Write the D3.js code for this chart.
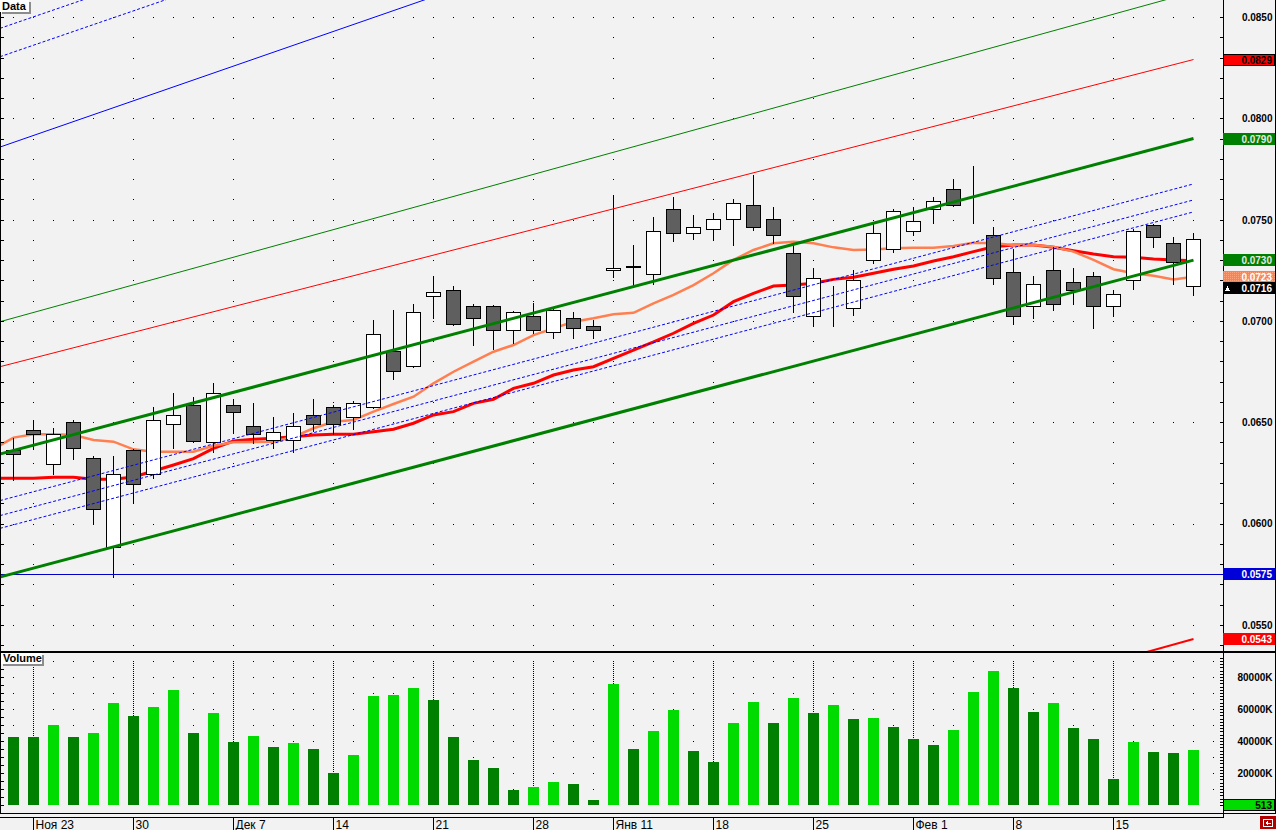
<!DOCTYPE html>
<html><head><meta charset="utf-8">
<script src="https://cdn.jsdelivr.net/npm/d3@7"></script>
<style>
body{margin:0;background:#f2f2f2;overflow:hidden}
svg{display:block}
text{font-family:"Liberation Sans",Arial,sans-serif}
</style>
</head><body>
<svg id="c" width="1276" height="830"></svg>
<script>
// ---------------- DATA ----------------
const opens  = [0.06363,0.06462,0.06292,0.06500,0.06322,0.05883,0.06363,0.06243,0.06490,0.06585,
                0.06401,0.06583,0.06480,0.06411,0.06411,0.06536,0.06574,0.06524,0.06574,0.06850,
                0.06779,0.07121,0.07151,0.07072,0.07072,0.06954,0.07023,0.06944,0.07013,0.06973,
                0.07250,0.07268,0.07230,0.07551,0.07432,0.07452,0.07501,0.07571,0.07501,0.07334,
                0.07023,0.07102,0.07062,0.07299,0.07353,0.07442,0.07551,0.07650,0.07551,0.07423,
                0.07240,0.07072,0.07250,0.07191,0.07220,0.07072,0.07200,0.07472,0.07383,0.07171];
const highs  = [0.06424,0.06511,0.06470,0.06511,0.06333,0.06333,0.06368,0.06574,0.06646,0.06626,
                0.06695,0.06615,0.06595,0.06524,0.06545,0.06615,0.06585,0.06605,0.07004,0.07054,
                0.07083,0.07222,0.07172,0.07083,0.07078,0.07049,0.07087,0.07059,0.07044,0.07003,
                0.07621,0.07375,0.07513,0.07612,0.07523,0.07533,0.07602,0.07722,0.07561,0.07383,
                0.07260,0.07171,0.07250,0.07482,0.07551,0.07561,0.07610,0.07700,0.07765,0.07462,
                0.07353,0.07220,0.07363,0.07260,0.07240,0.07151,0.07452,0.07478,0.07413,0.07432];
const lows   = [0.06215,0.06366,0.06244,0.06317,0.06001,0.05737,0.06100,0.06226,0.06374,0.06402,
                0.06354,0.06445,0.06396,0.06374,0.06354,0.06457,0.06440,0.06465,0.06569,0.06715,
                0.06774,0.07016,0.06978,0.06883,0.06863,0.06892,0.06939,0.06914,0.06914,0.06914,
                0.07215,0.07172,0.07184,0.07396,0.07406,0.07406,0.07376,0.07447,0.07383,0.07045,
                0.06976,0.06976,0.07028,0.07286,0.07339,0.07423,0.07485,0.07566,0.07485,0.07184,
                0.06986,0.07016,0.07055,0.07085,0.06966,0.07026,0.07156,0.07366,0.07184,0.07126];
const closes = [0.06342,0.06440,0.06442,0.06371,0.06070,0.06243,0.06193,0.06509,0.06536,0.06409,
                0.06643,0.06552,0.06440,0.06450,0.06480,0.06490,0.06490,0.06593,0.06934,0.06751,
                0.07042,0.07141,0.06983,0.07013,0.06954,0.07042,0.06954,0.07052,0.06963,0.06954,
                0.07260,0.07270,0.07442,0.07432,0.07462,0.07501,0.07580,0.07462,0.07423,0.07121,
                0.07210,0.07102,0.07200,0.07432,0.07541,0.07492,0.07590,0.07571,0.07551,0.07210,
                0.07023,0.07181,0.07082,0.07151,0.07072,0.07131,0.07442,0.07413,0.07289,0.07403];
// volumes in thousands (K)
const volumes = [42500,42500,50000,42500,45000,63960,55625,61250,71875,45000,
                 57500,39375,43125,36250,38750,35000,20000,31250,68125,68750,
                 73125,65625,42500,28125,23125,9375,11250,14375,13125,3125,
                 75625,35000,46250,59375,33750,26875,51250,64375,51250,66875,
                 57500,62500,53750,54375,48750,41250,37500,46875,70625,83750,
                 73125,58125,63750,48125,41250,16250,39375,33125,32500,34375];
// moving averages: first value belongs to the bar before the first visible one
const maFast = [0.06368,0.06424,0.06440,0.06440,0.06437,0.06412,0.06404,0.06366,0.06354,0.06354,0.06354,
                0.06384,0.06401,0.06402,0.06404,0.06428,0.06470,0.06502,0.06511,0.06552,0.06590,
                0.06626,0.06692,0.06749,0.06799,0.06848,0.06881,0.06930,0.06963,0.06996,0.07013,
                0.07033,0.07040,0.07087,0.07128,0.07177,0.07235,0.07301,0.07350,0.07383,0.07391,
                0.07383,0.07363,0.07350,0.07353,0.07358,0.07361,0.07361,0.07370,0.07386,0.07383,
                0.07375,0.07375,0.07366,0.07342,0.07301,0.07255,0.07235,0.07223,0.07205,0.07218];
const maSlow = [0.06223,0.06223,0.06223,0.06228,0.06228,0.06218,0.06218,0.06230,0.06259,0.06289,0.06320,
                0.06371,0.06407,0.06416,0.06421,0.06428,0.06437,0.06440,0.06440,0.06453,0.06465,
                0.06495,0.06536,0.06552,0.06593,0.06613,0.06667,0.06692,0.06733,0.06758,0.06774,
                0.06815,0.06856,0.06896,0.06939,0.06988,0.07029,0.07095,0.07136,0.07172,0.07177,
                0.07186,0.07205,0.07215,0.07235,0.07255,0.07271,0.07296,0.07317,0.07342,0.07366,
                0.07375,0.07375,0.07363,0.07346,0.07330,0.07317,0.07314,0.07306,0.07301,0.07297];
// trend objects: [barIndexStart, priceStart, barIndexEnd, priceEnd]
const chanUpper  = [-0.675,0.06343,59,0.07900];
const chanLower  = [-0.675,0.05736,59,0.07300];
const thinGreen  = [-0.675,0.06996,59,0.08623];
const thinRed    = [-0.675,0.06774,59,0.08290];
const redBottom  = [55.0,0.05320,59,0.05430];
const midDot1    = [-0.675,0.06113,59,0.07676];
const midDot2    = [-0.675,0.06039,59,0.07597];
const midDot3    = [-0.675,0.05976,59,0.07538];
const blueSolid  = [-0.675,0.07858,25,0.08737];
const blueDot1   = [-0.675,0.08444,10,0.08806];
const blueDot2   = [-0.675,0.08304,12,0.08734];
const hLevel     = 0.0575;
// axis labels
const priceTickLabels = ["0.0550","0.0600","0.0650","0.0700","0.0750","0.0800","0.0850"];
const volTickLabels   = ["20000K","40000K","60000K","80000K"];
const dateTickIdx    = [1,6,11,16,21,26,30,35,40,45,50,55];
const dateTickLabels = ["Ноя 23","30","Дек 7","14","21","28","Янв 11","18","25","Фев 1","8","15"];
const lastBid = 0.0716;
const lastVolLabel = "513";

// ---------------- CHART ----------------
const svg = d3.select("#c");
const AX = 1223;        // right axis x
const x  = d3.scaleLinear().domain([0,59]).range([13.5,1193.5]);
const y  = d3.scaleLinear().domain([0.055,0.085]).range([624.8,17]);
const yv = d3.scaleLinear().domain([0,80000]).range([805,677]);
const fx = i => Math.floor(x(i));

svg.append("rect").attr("width",1276).attr("height",830).attr("fill","#f2f2f2");

const defs = svg.append("defs");
defs.append("clipPath").attr("id","cp").append("rect").attr("x",1).attr("y",0).attr("width",AX-1).attr("height",651);
defs.append("clipPath").attr("id","cv").append("rect").attr("x",1).attr("y",654).attr("width",AX-1).attr("height",159);
const pat = defs.append("pattern").attr("id","orPat").attr("width",2).attr("height",2).attr("patternUnits","userSpaceOnUse");
pat.append("rect").attr("width",2).attr("height",2).attr("fill","#ff7f50");
pat.append("rect").attr("width",1).attr("height",1).attr("fill","#ffa27a");

// ---- price grid dots
const priceMajor = priceTickLabels.map(Number);
const priceMinor = d3.range(54,86).map(k=>k/1000);
const gGrid = svg.append("g").attr("shape-rendering","crispEdges");
priceMajor.forEach(v=>{
  d3.range(60).forEach(k=>{
    gGrid.append("rect").attr("x",fx(k)).attr("y",Math.round(y(v))).attr("width",1).attr("height",1).attr("fill","#000");
  });
});
dateTickIdx.forEach(idx=>{
  priceMinor.forEach(v=>{
    const yy=Math.round(y(v)); if(yy>0&&yy<650)
    gGrid.append("rect").attr("x",fx(idx)).attr("y",yy).attr("width",1).attr("height",1).attr("fill","#000");
  });
});
// ---- volume grid
d3.range(10000,90001,10000).forEach(v=>{
  d3.range(61).forEach(k=>{
    gGrid.append("rect").attr("x",fx(k)).attr("y",Math.round(yv(v))).attr("width",1).attr("height",1).attr("fill","#000");
  });
});
dateTickIdx.forEach(idx=>{
  gGrid.append("line").attr("x1",fx(idx)+0.5).attr("x2",fx(idx)+0.5)
    .attr("y1",Math.round(yv(90000))).attr("y2",805).attr("stroke","#000").attr("stroke-dasharray","1,1");
});

// ---- price pane content
const gP = svg.append("g").attr("clip-path","url(#cp)");
const line = d3.line().x(d=>x(d[0])).y(d=>y(d[1]));
const maLine = d3.line().x((d,k)=>x(k-1)).y(d=>y(d));
gP.append("path").attr("d",maLine(maSlow)).attr("fill","none").attr("stroke","#ff0000").attr("stroke-width",3);
gP.append("path").attr("d",maLine(maFast)).attr("fill","none").attr("stroke","#ff7f50").attr("stroke-width",2.5);

// candles
const gC = gP.append("g").attr("shape-rendering","crispEdges");
d3.range(60).forEach(i=>{
  const o=opens[i],c=closes[i],h=highs[i],l=lows[i];
  const cx=fx(i)+0.5;
  gC.append("line").attr("x1",cx).attr("x2",cx).attr("y1",Math.round(y(h))).attr("y2",Math.round(y(l))+1).attr("stroke","#000");
  const top=Math.round(y(Math.max(o,c))), bot=Math.round(y(Math.min(o,c)));
  gC.append("rect").attr("x",fx(i)-7+0.5).attr("y",top+0.5).attr("width",14).attr("height",Math.max(bot-top,0))
    .attr("fill", c>=o ? "#ffffff" : "#5f5f5f").attr("stroke","#000").attr("stroke-width",1);
});

// trend objects
const seg = a=>[[a[0],a[1]],[a[2],a[3]]];
gP.append("line").attr("x1",0).attr("x2",AX).attr("y1",Math.round(y(hLevel))+0.5).attr("y2",Math.round(y(hLevel))+0.5).attr("stroke","#0000c8").attr("stroke-width",1);
[[blueSolid,"#0000ff",null],[blueDot1,"#0000ff","3,2"],[blueDot2,"#0000ff","3,2"],
 [midDot1,"#0000ff","3,2"],[midDot2,"#0000ff","3,2"],[midDot3,"#0000ff","3,2"],
 [thinGreen,"#008000",null],[thinRed,"#ff0000",null]].forEach(([a,col,dash])=>{
  const p=gP.append("path").attr("d",line(seg(a))).attr("fill","none").attr("stroke",col).attr("stroke-width",1);
  if(dash) p.attr("stroke-dasharray",dash);
});
[chanUpper,chanLower].forEach(a=>{
  gP.append("path").attr("d",line(seg(a))).attr("fill","none").attr("stroke","#008000").attr("stroke-width",3);
});
gP.append("path").attr("d",line(seg(redBottom))).attr("fill","none").attr("stroke","#ff0000").attr("stroke-width",2);

// ---- volume bars
const gV = svg.append("g").attr("clip-path","url(#cv)").attr("shape-rendering","crispEdges");
gV.selectAll("rect.v").data(volumes).enter().append("rect")
  .attr("x",(d,i)=>fx(i)-5).attr("width",11)
  .attr("y",d=>Math.round(yv(d))).attr("height",d=>805-Math.round(yv(d)))
  .attr("fill",(d,i)=> i>0 && d>volumes[i-1] ? "#00dc00" : "#008000");

// ---- frame lines
const gF = svg.append("g").attr("shape-rendering","crispEdges");
gF.append("line").attr("x1",0.5).attr("x2",0.5).attr("y1",0).attr("y2",814).attr("stroke","#000");
gF.append("line").attr("x1",AX+0.5).attr("x2",AX+0.5).attr("y1",0).attr("y2",817).attr("stroke","#000");
gF.append("line").attr("x1",1275.5).attr("x2",1275.5).attr("y1",0).attr("y2",814).attr("stroke","#000");
gF.append("rect").attr("x",0).attr("y",651).attr("width",1276).attr("height",2).attr("fill","#000");
gF.append("line").attr("x1",0).attr("x2",1276).attr("y1",813.5).attr("y2",813.5).attr("stroke","#000");
gF.append("line").attr("x1",0).attr("x2",AX+1).attr("y1",817.5).attr("y2",817.5).attr("stroke","#000");

// ---- right price axis
const pAxis = d3.axisRight(y).tickValues(priceMinor).tickSizeInner(-4).tickSizeOuter(0)
  .tickFormat(d=> priceTickLabels.includes(d3.format(".4f")(d)) ? d3.format(".4f")(d) : "");
const gPA = svg.append("g").attr("transform",`translate(${AX+0.5},0)`).call(pAxis);
gPA.select(".domain").remove();
gPA.selectAll(".tick").filter(d=>y(d)>650||y(d)<2).remove();
gPA.selectAll("text").attr("x",49).attr("text-anchor","end").attr("font-size","10px").attr("font-weight","bold").attr("fill","#000").attr("dy","0.34em").attr("font-family","Liberation Sans, Arial, sans-serif");
gPA.attr("shape-rendering","crispEdges");

// left ticks (price)
const lAxis = d3.axisRight(y).tickValues(priceMinor.filter(v=>y(v)<650)).tickSize(3).tickFormat("");
const gLA = svg.append("g").attr("transform","translate(0.5,0)").call(lAxis).attr("shape-rendering","crispEdges");
gLA.select(".domain").remove();

// ---- volume axis
const vTicks = d3.range(0,92001,2000);
const vAxis = d3.axisRight(yv).tickValues(vTicks).tickSizeInner(-4).tickSizeOuter(0)
  .tickFormat(d=> volTickLabels.includes(d/1000*1000+"K") && d%20000===0 && d>0 ? d+"K" : "");
const gVA = svg.append("g").attr("transform",`translate(${AX+0.5},0)`).call(vAxis).attr("shape-rendering","crispEdges");
gVA.select(".domain").remove();
gVA.selectAll("text").attr("x",49).attr("text-anchor","end").attr("font-size","10px").attr("font-weight","bold").attr("fill","#000").attr("dy","0.34em").attr("font-family","Liberation Sans, Arial, sans-serif");
const lvAxis = d3.axisRight(yv).tickValues(d3.range(0,92001,5000)).tickSize(3).tickFormat("");
const gLV = svg.append("g").attr("transform","translate(0.5,0)").call(lvAxis).attr("shape-rendering","crispEdges");
gLV.select(".domain").remove();

// ---- date axis
const gD = svg.append("g");
dateTickIdx.forEach((idx,k)=>{
  const xx=fx(idx)+0.5;
  gD.append("line").attr("x1",xx).attr("x2",xx).attr("y1",818).attr("y2",830).attr("stroke","#000").attr("shape-rendering","crispEdges");
  gD.append("text").attr("x",xx+2).attr("y",828.5).attr("font-size","12px").attr("fill","#000").text(dateTickLabels[k]);
});

// ---- right axis value labels
function valLabel(yc, txt, fill, tcol, stroke, tri){
  const g=svg.append("g").attr("shape-rendering","crispEdges");
  const r=g.append("rect").attr("x",AX).attr("y",Math.round(yc)-6).attr("width",1275-AX).attr("height",12).attr("fill",fill);
  if(stroke) r.attr("x",AX+0.5).attr("y",Math.round(yc)-5.5).attr("width",1275-AX-1).attr("height",11).attr("stroke",stroke);
  if(tri) g.append("path").attr("d",`M${AX+2},${Math.round(yc)+3} L${AX+4.5},${Math.round(yc)-2} L${AX+7},${Math.round(yc)+3} Z`).attr("fill","#fff");
  g.append("text").attr("x",1272).attr("y",Math.round(yc)+4).attr("text-anchor","end").attr("font-size","10px").attr("font-weight","bold").attr("fill",tcol).text(txt);
}
const fmt4 = d3.format(".4f");
valLabel(y(thinRed[3]), fmt4(thinRed[3]), "#ff0000", "#000", "#000");
valLabel(y(chanUpper[3]), fmt4(chanUpper[3]), "#008000", "#e8e8e8");
valLabel(y(chanLower[3]), fmt4(chanLower[3]), "#008000", "#e8e8e8");
valLabel(y(maFast[maFast.length-1])+0.5, d3.format(".4f")(0.0723), "url(#orPat)", "#fff");
valLabel(y(lastBid), fmt4(lastBid), "#000", "#fff", null, true);
valLabel(y(hLevel), fmt4(hLevel), "#0000d8", "#fff");
valLabel(y(redBottom[3]), fmt4(redBottom[3]), "#ff0000", "#fff");
// volume label
{
  const g=svg.append("g").attr("shape-rendering","crispEdges");
  g.append("rect").attr("x",AX+0.5).attr("y",799.5).attr("width",1275-AX-1).attr("height",11).attr("fill","#00dc00").attr("stroke","#000");
  g.append("text").attr("x",1272).attr("y",809).attr("text-anchor","end").attr("font-size","10px").attr("font-weight","bold").attr("fill","#000").text(lastVolLabel);
}

// ---- pane title boxes
function titleBox(x0,y0,w,h,txt){
  const g=svg.append("g").attr("shape-rendering","crispEdges");
  g.append("rect").attr("x",x0+2).attr("y",y0+2).attr("width",w).attr("height",h).attr("fill","#8c8c8c");
  g.append("rect").attr("x",x0).attr("y",y0).attr("width",w).attr("height",h).attr("fill","#ffffff");
  g.append("text").attr("x",x0+2).attr("y",y0+h-2).attr("font-size","11px").attr("font-weight","bold").attr("fill","#000").text(txt);
}
titleBox(0,0,29,12,"Data");
titleBox(1,653,41,11,"Volume");

// ---- bottom-right icon
{
  const g=svg.append("g").attr("shape-rendering","crispEdges");
  g.append("rect").attr("x",1260).attr("y",816).attr("width",16).attr("height",13).attr("fill","#b00000");
  g.append("rect").attr("x",1263.5).attr("y",819.5).attr("width",9).attr("height",7).attr("fill","none").attr("stroke","#fff");
  g.append("path").attr("d","M1265,823 L1268,820.5 L1268,825.5 Z M1267,822.5 h4 v1 h-4 Z").attr("fill","#fff");
}
</script>
</body></html>
